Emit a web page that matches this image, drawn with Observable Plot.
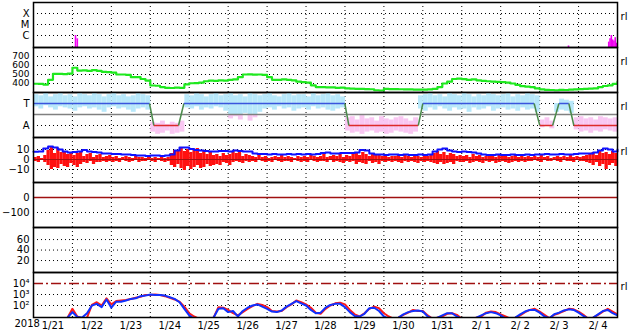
<!DOCTYPE html>
<html><head><meta charset="utf-8">
<script src="https://cdn.jsdelivr.net/npm/d3@7"></script>
<script src="https://cdn.jsdelivr.net/npm/@observablehq/plot@0.6"></script>
<style>
body{margin:0;background:#fff;}
#chart{position:relative;width:633px;height:334px;overflow:hidden;background:#fff;font-family:"DejaVu Sans",sans-serif;}
#chart svg{position:absolute;left:0;}
</style></head><body><div id="chart"></div>
<script>
// ---------- data (time axis in hours since 2018-01-21 00:00) ----------
const yearLabel = "2018";
const dayLabels = ["1/21","1/22","1/23","1/24","1/25","1/26","1/27","1/28","1/29","1/30","1/31","2/ 1","2/ 2","2/ 3","2/ 4"];

// X-ray flares (class level: C=1, M=2, X=3)
const flareClassTicks = [1, 2, 3];
const flareClassNames = ["C", "M", "X"];
const flareHours = [25.9, 27.0, 329.8, 354.6, 355.4, 356.2, 357.0, 357.8, 358.6, 359.4];
const flareLevel = [1.0, 0.7, 0.05, 0.4, 0.7, 1.0, 0.6, 0.5, 0.8, 0.3];

// solar wind speed, every 3 h
const speed = [397,395,388,441,508,508,505,510,575,544,545,540,548,540,530,526,520,500,500,495,470,470,450,433,
378,375,360,352,350,355,352,390,403,405,410,425,433,430,435,433,441,445,470,500,502,498,500,495,
470,441,441,445,441,435,420,415,410,380,360,359,358,356,352,355,345,343,341,341,338,336,325,322,
341,338,337,336,335,334,333,332,333,335,340,360,400,420,450,455,448,440,445,435,430,425,420,418,
415,410,400,385,370,365,360,345,335,330,328,325,330,328,333,335,338,340,342,345,360,372,380,395,420];
const speedTicks = [400, 500, 600, 700];

// IMF sector (T = 1, A = -1)
const sectorTicks = [1, -1];
const sectorNames = ["T", "A"];
const sectorHours = [0, 71.5, 74.2, 89.4, 92.7, 191.9, 194.4, 237.2, 240.0, 308.6, 312.1, 320, 323.9, 330, 333.1, 360];
const sectorLevel = [1, 1, -1, -1, 1, 1, -1, -1, 1, 1, -1, -1, 1, 1, -1, -1];
// IMF angle cloud, 3 h bins: upper / lower extent
const angleHi = [1.8,1.7,1.9,1.6,1.8,1.9,1.7,1.8,1.6,1.9,1.8,1.7,1.9,1.8,1.6,1.8,1.9,1.7,1.8,1.6,1.7,1.9,1.8,1.7,
-0.7,-0.8,-0.6,-0.9,-0.7,-0.8,-0.6,
1.8,1.7,1.9,1.8,1.6,1.8,1.9,1.7,1.8,1.9,1.7,1.8,1.6,1.9,1.8,1.7,1.8,1.9,1.7,1.6,1.8,1.9,1.7,1.8,1.8,1.6,1.9,1.7,1.8,1.9,1.7,1.8,1.6,
-0.3,-0.2,-0.5,-0.1,-0.4,-0.3,-0.6,-0.2,-0.4,-0.5,-0.3,-0.2,-0.4,-0.6,-0.3,
1.7,1.8,1.9,1.7,1.8,1.6,1.9,1.8,1.7,1.9,1.8,1.6,1.8,1.7,1.9,1.8,1.7,1.8,1.9,1.6,1.8,1.7,1.9,1.8,1.7,
-0.5,-0.3,-0.6,
1.0,1.4,1.3,1.2,
-0.3,-0.2,-0.4,-0.3,-0.5,-0.2,-0.3,-0.4,-0.3];
const angleLo = [0.7,0.5,0.8,0.6,0.4,0.7,0.6,0.5,0.3,0.6,0.7,0.5,0.6,0.4,0.2,0.6,0.7,0.5,0.6,0.4,0.2,0.5,0.6,0.4,
-1.6,-1.8,-1.7,-1.5,-1.8,-1.7,-1.6,
0.6,0.5,0.7,0.4,0.6,0.5,0.7,0.6,0.3,-0.4,-0.2,-0.5,0.1,-0.6,-0.3,0.2,0.5,0.6,0.4,0.7,0.5,0.6,0.3,0.5,0.6,0.4,0.7,0.5,0.6,0.4,0.3,0.5,0.6,
-1.5,-1.7,-1.6,-1.8,-1.6,-1.5,-1.7,-1.6,-1.8,-1.7,-1.5,-1.6,-1.7,-1.8,-1.6,
0.5,0.3,0.6,0.4,0.7,0.5,0.3,0.6,0.4,0.5,0.2,0.6,0.4,0.5,0.7,0.3,0.5,0.6,0.4,0.5,0.3,0.6,0.4,0.5,0.2,
-1.2,-1.0,-1.3,
0.2,0.4,0.3,0.1,
-1.4,-1.6,-1.5,-1.7,-1.5,-1.6,-1.4,-1.5,-1.6];

// IMF |B| every 3 h, Bz range in 2 h bins
const bt = [7.7,8,11,13,12,10,8,7,7.5,8,9.5,8,7.5,7,6,6,5.5,5.5,5,5,4.5,4,4,3.5,
4,4,3.5,4,5,9,12,12,10.5,9.5,9,8.5,8,8,8.5,8.5,8,9,8.5,8,8,6,5.5,5.5,
5,5.5,5,5,5.5,5,5.5,5,5.5,5,5.5,6.5,7,6,6,6.5,6.5,6.5,7,9.5,9,6,5,5,
4.5,5,5,4.5,5,4.5,4.5,5,4.5,5,8,10,11,9,8,7.5,8,7.5,7,6,5,4.5,4.5,5,
4.5,4.5,5,4.5,4.5,5,4.5,5,5,5.5,5,5,5.5,5,5,5.5,6,6,6,7,9,11,10,8,10];
const bzHi = [2,3,1,4, 9,12,6,11,7, 8,5,7,4,6, 7,3,5,6,2,4, 5,2,3,4, 2,3,1,2,3,2,1,3,2,2,1,3, 1,2,1,2,1,2,
6,9,8, 11,8,10,7,9,11,6, 8,5,7,4, 5,3,6,4,5, 8,6,7,3,5,4,
3,2,4,2,3,1,2,3,2,4,2,3,2,1,3,2,3,2,4,3,2,3,5,2,3, 4,3,5,2,4,3,5, 6,4,7,5,3,6,4,5,3,4,2,3,
3,4,2,5,3,2,4,3,2,4,3,5, 6,8,5,7,4,6,5,3,4, 3,4,2,5,3,4,2,3,5,3,2,4,3,4,2,3,4,2,3,2,3,
2,3,2,4,2,3,1,2,3,2,3,2,4,2,3,2,3,4, 5,7,4,8,6,7,5,8,6];
const bzLo = [-2,-3,-1,-3, -6,-10,-8,-9,-5, -7,-8,-4,-6,-8, -5,-3,-4,-2,-5,-3, -3,-2,-3,-2,
-3,-2,-3,-1,-2,-3,-2,-1,-3,-2,-2,-1, -2,-3,-1,-2,-3,-2, -6,-8,-5, -9,-11,-7,-10,-8,-6,-9, -8,-5,-7,-6,
-5,-6,-3,-4,-6, -3,-2,-3,-4,-2,-3,
-2,-3,-1,-2,-3,-2,-3,-1,-2,-3,-2,-2,-3,-1,-2,-3,-2,-3,-1,-2,-3,-2,-2,-3,-1, -3,-2,-3,-4,-2,-3,-2,
-5,-3,-4,-5,-2,-4,-3,-5,-2,-3,-2,-3, -2,-3,-4,-2,-3,-2,-3,-4,-2,-3,-2,-3, -4,-5,-3,-5,-4,-3,-5,-2,-3,
-3,-2,-4,-3,-2,-3,-4,-2,-3,-2,-4,-3,-2,-3,-4,-3,-2,-3,-2,-3,-2,
-2,-1,-2,-3,-1,-2,-2,-1,-2,-3,-1,-2,-2,-3,-1,-2,-2,-3, -4,-6,-3,-7,-5,-10,-6,-4,-7];
const bTicks = [10, 0, -10];

// Dst
const dstTicks = [0, -100];
const dstValue = [0];

// third index panel
const kTicks = [20, 40, 60];

// particle flux, log10 every 3 h (0.8 = below detection)
const fluxTicks = [100, 1000, 10000];
const fluxNames = ["10\u00B2", "10\u00B3", "10\u2074"];
const fluxAlert = [10000];
const fluxBlue = [0.8,0.8,0.8,0.8,0.8,0.8,0.8,0.9,1.4,0.95,0.9,1.3,2.0,2.15,1.85,2.55,1.8,2.35,2.35,2.45,2.6,2.65,2.85,2.9,
3.0,2.95,2.95,2.9,2.75,2.6,2.3,1.7,1.1,0.8,0.8,0.8,0.8,0.9,1.7,1.75,1.4,1.5,1.0,1.5,1.8,2.0,2.1,1.9,
1.7,1.45,1.4,1.55,1.9,2.15,2.4,2.2,2.0,1.6,1.3,1.35,1.8,2.05,2.15,2.15,1.85,1.4,1.05,1.0,1.25,1.75,1.8,1.5,
1.0,0.8,0.8,0.9,1.2,1.4,1.5,1.55,1.45,1.0,0.8,0.9,1.1,1.3,1.3,1.0,0.8,0.8,0.8,0.9,1.1,1.3,1.4,1.3,
1.1,0.8,0.8,0.9,1.2,1.45,1.6,1.6,1.35,1.0,0.85,1.2,1.35,1.55,1.65,1.6,1.35,1.05,0.8,0.9,1.2,1.5,1.6,1.3,1.1];
const fluxRed = [0.8,0.8,0.8,0.8,0.8,0.8,0.8,0.9,1.7,1.0,0.8,0.9,2.05,2.3,2.0,2.65,2.1,2.4,2.45,2.5,2.6,2.7,2.8,2.95,
2.95,3.0,2.95,2.85,2.7,2.55,2.35,1.9,1.3,1.0,0.8,0.8,0.8,0.9,1.85,1.8,1.6,1.3,1.1,1.4,1.7,1.95,2.15,2.05,
1.85,1.5,1.45,1.5,1.85,2.1,2.45,2.3,2.1,1.8,1.35,1.25,1.7,2.0,2.2,2.25,2.1,1.6,1.2,1.0,1.3,1.7,1.9,1.75,
1.3,1.0,0.8,0.9,1.15,1.35,1.6,1.5,1.5,1.1,0.8,0.9,1.0,1.25,1.3,1.15,0.8,0.8,0.8,0.9,1.0,1.35,1.45,1.4,
1.2,1.0,0.8,0.9,1.1,1.4,1.6,1.7,1.45,1.15,0.85,1.15,1.3,1.5,1.7,1.65,1.45,1.15,0.8,0.9,1.15,1.45,1.7,1.45,1.2];

const rightMark = "rl";

// ---------- drawing ----------
const root = document.getElementById("chart");
const FONT = '"DejaVu Sans", sans-serif';
const dayGrid = d3.range(24, 360, 24);
const dot = {stroke: "#000", strokeWidth: 1, strokeDasharray: "1,3"};
const idx = a => a.map((_, i) => i);

function addPanel(top, o) {
  const mt = o.mt || 0, mb = o.mb || 0;
  const marks = [
    Plot.ruleX(dayGrid, dot),
    Plot.ruleY(o.grid || [], dot),
    ...o.marks,
    Plot.axisY(o.ticks, {tickSize: 0, tickPadding: 4, tickFormat: o.fmt, fontSize: o.fs || 10}),
    Plot.frame({stroke: "#000", strokeWidth: 1.5})
  ];
  if (o.right) marks.push(Plot.text([rightMark], {frameAnchor: "top-right", dx: 10, dy: 10, text: d => d, fontSize: 10}));
  if (o.extra) marks.push(...o.extra);
  const svg = Plot.plot({
    width: 633, height: 45 + mt + mb,
    marginLeft: 33, marginRight: 16, marginTop: mt, marginBottom: mb,
    x: {domain: [0, 360], axis: o.xaxis ? undefined : null},
    y: o.y,
    style: {background: "transparent", overflow: "visible", fontFamily: FONT, fontSize: "10px", color: "#000"},
    marks
  });
  svg.style.top = (top - mt) + "px";
  root.appendChild(svg);
}

// 1. X-ray flares
addPanel(2, {
  mt: 2, y: {domain: [-0.09, 4]}, ticks: flareClassTicks,
  fmt: d => flareClassNames[flareClassTicks.indexOf(d)], grid: flareClassTicks, right: true,
  marks: [Plot.ruleX(idx(flareHours), {x: i => flareHours[i], y1: -0.09, y2: i => flareLevel[i], stroke: "#f000f0", strokeWidth: 1.6})]
});

// 2. speed
addPanel(47, {
  y: {domain: [300, 800]}, ticks: speedTicks, grid: speedTicks, right: true, fs: 9,
  marks: [Plot.line(idx(speed), {x: i => i * 3, y: i => speed[i], curve: "step-after", stroke: "#1fe81f", strokeWidth: 2.2, clip: true})]
});

// 3. sector
addPanel(92, {
  y: {domain: [-2.09, 2]}, ticks: sectorTicks, fmt: d => sectorNames[sectorTicks.indexOf(d)], grid: sectorTicks, right: true,
  marks: [
    Plot.ruleX(idx(angleHi).filter(i => angleHi[i] > 0), {x: i => i * 3 + 1.5, y1: i => Math.max(angleLo[i], 0), y2: i => angleHi[i], stroke: "#b8e8fa", strokeWidth: 4.9}),
    Plot.ruleX(idx(angleLo).filter(i => angleLo[i] < 0), {x: i => i * 3 + 1.5, y1: i => angleLo[i], y2: i => Math.min(angleHi[i], 0), stroke: "#f9c6f2", strokeWidth: 4.9}),
    Plot.ruleY([0], {stroke: "#808080", strokeWidth: 1.5}),
    Plot.link(idx(sectorHours).slice(0, -1), {
      x1: i => sectorHours[i], x2: i => sectorHours[i + 1], y1: i => sectorLevel[i], y2: i => sectorLevel[i + 1],
      stroke: i => sectorLevel[i] !== sectorLevel[i + 1] ? "#4a8a4a" : (sectorLevel[i] > 0 ? "#3a55dd" : "#dd2a2a"),
      strokeWidth: 1.5
    })
  ]
});

// 4. IMF
addPanel(137, {
  y: {domain: [-23, 22]}, ticks: bTicks, grid: [10, -10], right: true,
  marks: [
    Plot.ruleX(idx(bzHi), {x: i => i * 2 + 1, y1: i => bzLo[i], y2: i => bzHi[i], stroke: "#ff1010", strokeWidth: 3.3}),
    Plot.ruleY([0], {stroke: "#a01010", strokeWidth: 1}),
    Plot.line(idx(bt), {x: i => i * 3, y: i => bt[i], curve: "step-after", stroke: "#1010ff", strokeWidth: 2})
  ]
});

// 5. Dst
addPanel(182, {
  y: {domain: [-200, 100]}, ticks: dstTicks, grid: [-100],
  marks: [Plot.ruleY(dstValue, {stroke: "#a01010", strokeWidth: 1.5})]
});

// 6. index
addPanel(227, {
  y: {domain: [-2.8, 83]}, ticks: kTicks, grid: kTicks, marks: []
});

// 7. particle flux
addPanel(272, {
  mb: 17, xaxis: true,
  y: {type: "log", domain: [Math.pow(10, 0.91), 1e5]}, ticks: fluxTicks,
  fmt: d => fluxNames[fluxTicks.indexOf(d)], grid: [100, 1000], right: true,
  marks: [
    Plot.ruleY(fluxAlert, {stroke: "#a01010", strokeWidth: 1.5, strokeDasharray: "10,3,2,3"}),
    Plot.line(idx(fluxRed), {x: i => i * 3, y: i => Math.pow(10, fluxRed[i]), stroke: "#ff1a1a", strokeWidth: 2, clip: true}),
    Plot.line(idx(fluxBlue), {x: i => i * 3, y: i => Math.pow(10, fluxBlue[i]), stroke: "#1030ff", strokeWidth: 2, clip: true})
  ],
  extra: [
    Plot.axisX(dayLabels.map((_, i) => i * 24 + 12), {tickSize: 0, tickPadding: 4, tickFormat: d => dayLabels[(d - 12) / 24], fontSize: 10}),
    Plot.text([yearLabel], {frameAnchor: "bottom-left", dx: -19, dy: 9, text: d => d, fontSize: 10})
  ]
});
</script>
</body></html>
